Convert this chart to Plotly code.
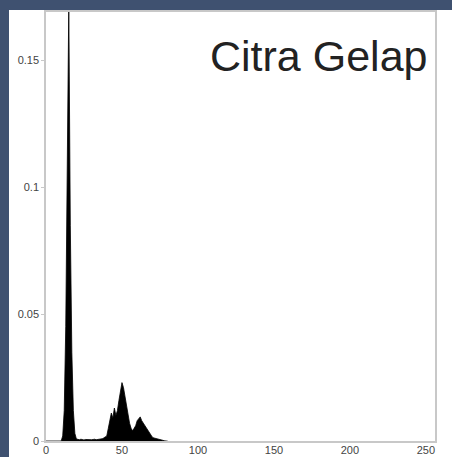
import plotly.graph_objects as go

# histogram citra gelap
gray_levels = list(range(0, 81))
probability = [
    0, 0, 0, 0, 0, 0, 0, 0, 0, 0,
    0, 0.002, 0.012, 0.045, 0.11, 0.172, 0.085, 0.035, 0.012, 0.003,
    0.0008, 0.0006, 0.0005, 0.0007, 0.0005, 0.0004, 0.0006, 0.0005, 0.0004, 0.0006,
    0.0005, 0.0006, 0.0007, 0.0005, 0.0006, 0.0008, 0.0007, 0.0009, 0.0012, 0.0015,
    0.002, 0.005, 0.008, 0.011, 0.009, 0.013, 0.010, 0.012, 0.016, 0.019,
    0.023, 0.021, 0.017, 0.014, 0.010, 0.007, 0.005, 0.004, 0.005, 0.006,
    0.008, 0.009, 0.0095, 0.008, 0.007, 0.006, 0.005, 0.004, 0.003, 0.002,
    0.0015, 0.0012, 0.001, 0.0008, 0.0006, 0.0004, 0.0003, 0.0002, 0.0001, 0, 0,
]
x_ticks = [0, 50, 100, 150, 200, 250]
y_ticks = [0, 0.05, 0.1, 0.15]
y_tick_text = ["0", "0.05", "0.1", "0.15"]
title_text = "Citra Gelap"

fig = go.Figure()

fig.add_trace(go.Scatter(
    x=gray_levels, y=probability, mode='lines',
    line=dict(color='black', width=0.8),
    fill='tozeroy', fillcolor='black', showlegend=False
))

# judul di dalam plot
fig.add_annotation(
    x=0.985, y=0.897, xref='paper', yref='paper',
    xanchor='right', yanchor='middle', showarrow=False,
    text=title_text, font=dict(family="Liberation Sans, Arial", size=43, color="#222222")
)

# bingkai biru gelap di kiri dan atas
l, r, t, b = 46, 17, 12, 16
pw, ph = 452 - l - r, 457 - t - b
fig.add_shape(type="rect", xref='paper', yref='paper',
              x0=-l / pw, x1=(9 - l) / pw, y0=-b / ph, y1=(ph + t) / ph,
              fillcolor='#3f5170', line=dict(width=0))
fig.add_shape(type="rect", xref='paper', yref='paper',
              x0=-l / pw, x1=(452 - l) / pw, y0=(ph + t - 10) / ph, y1=(ph + t) / ph,
              fillcolor='#3f5170', line=dict(width=0))

axis_style = dict(showgrid=False, zeroline=False, showline=True, linecolor='#c8c8c8',
                  linewidth=1.5, mirror=True, automargin=False,
                  tickfont=dict(family="Liberation Sans, Arial", size=11, color="#444444"))

fig.update_layout(
    width=452, height=457,
    margin=dict(l=l, r=r, t=t, b=b),
    paper_bgcolor='white', plot_bgcolor='white',
    xaxis=dict(range=[0, 256], tickvals=x_ticks, ticks='', ticklabelstandoff=-2, **axis_style),
    yaxis=dict(range=[0, 0.169], tickvals=y_ticks, ticktext=y_tick_text,
               ticks='outside', ticklen=3, tickcolor='#c8c8c8', **axis_style),
)

fig.write_html("out.html", config={'displayModeBar': False},
               post_script="document.body.style.margin='0px';")
